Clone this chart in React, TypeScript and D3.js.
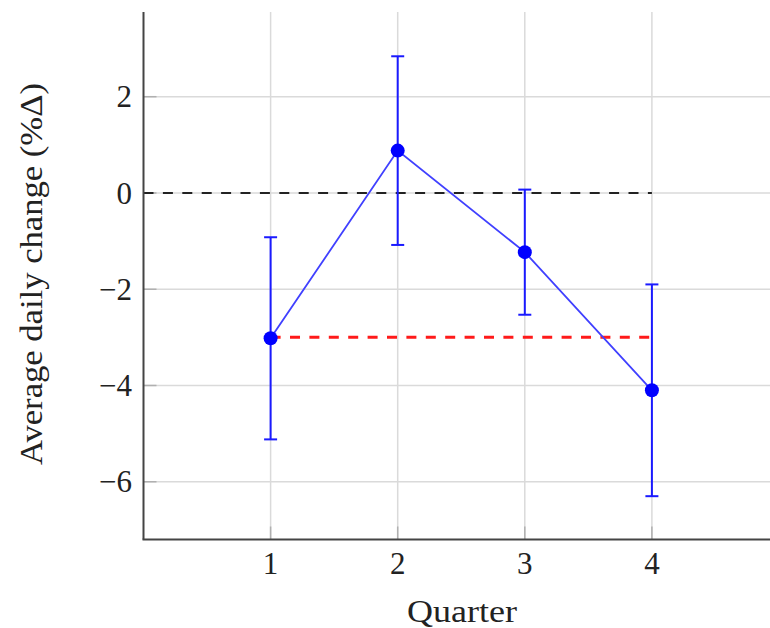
import React from "react";
import * as d3 from "d3";

const quarters = [1, 2, 3, 4];
const means = [-3.02, 0.88, -1.23, -4.1];
const errors = [2.1, 1.96, 1.3, 2.2];
const xTicks = [1, 2, 3, 4];
const yTicks = [-6, -4, -2, 0, 2];
const zeroLine = [0, 4];
const redLine = { from: 1, to: 4, value: -3 };

const W = 770;
const H = 628;
const left = 143.5;
const top = 12;
const bottom = 539.5;

export default function App() {
  const x = d3.scaleLinear().domain([0, 5]).range([left, 779]);
  const y = d3.scaleLinear().domain([-7.2, 3.76]).range([bottom, top]);
  const font = "'Liberation Serif', serif";
  const pts = quarters.map((q, i) => [x(q), y(means[i])] as [number, number]);
  const line = d3.line()(pts) || "";

  return (
    <svg width={W} height={H} style={{ position: "absolute", left: 0, top: 0, background: "#fff" }}>
      {xTicks.map((t) => (
        <line key={"gx" + t} x1={x(t)} x2={x(t)} y1={top} y2={bottom} stroke="#dadada" strokeWidth={1.5} />
      ))}
      {yTicks.map((t) => (
        <line key={"gy" + t} x1={left} x2={W} y1={y(t)} y2={y(t)} stroke="#dadada" strokeWidth={1.5} />
      ))}
      {xTicks.map((t) => (
        <line key={"tx" + t} x1={x(t)} x2={x(t)} y1={bottom} y2={bottom - 13} stroke="#b0b0b0" strokeWidth={1.5} />
      ))}
      {yTicks.map((t) => (
        <line key={"ty" + t} x1={left} x2={left + 13} y1={y(t)} y2={y(t)} stroke="#b0b0b0" strokeWidth={1.5} />
      ))}
      <line x1={x(zeroLine[0])} x2={x(zeroLine[1])} y1={y(0)} y2={y(0)} stroke="#222" strokeWidth={2} strokeDasharray="10,9.4" />
      <line x1={x(redLine.from)} x2={x(redLine.to)} y1={y(redLine.value)} y2={y(redLine.value)} stroke="#ff1a1a" strokeWidth={3} strokeDasharray="10,9.4" />
      {quarters.map((q, i) => {
        const cx = x(q);
        const y1 = y(means[i] + errors[i]);
        const y2 = y(means[i] - errors[i]);
        return (
          <g key={"e" + q} stroke="#1a1aff" strokeWidth={2}>
            <line x1={cx} x2={cx} y1={y1} y2={y2} />
            <line x1={cx - 6.5} x2={cx + 6.5} y1={y1} y2={y1} />
            <line x1={cx - 6.5} x2={cx + 6.5} y1={y2} y2={y2} />
          </g>
        );
      })}
      <path d={line} fill="none" stroke="#4040ff" strokeWidth={1.8} />
      {pts.map((p, i) => (
        <circle key={"c" + i} cx={p[0]} cy={p[1]} r={7} fill="#0000ff" />
      ))}
      <line x1={left} x2={left} y1={top} y2={bottom} stroke="#444" strokeWidth={2} />
      <line x1={left - 1} x2={W} y1={bottom} y2={bottom} stroke="#444" strokeWidth={2} />
      {xTicks.map((t) => (
        <text key={"lx" + t} x={x(t)} y={574} textAnchor="middle" style={{ fontFamily: font }} fontSize={31} fill="#222">
          {t}
        </text>
      ))}
      {yTicks.map((t) => (
        <text key={"ly" + t} x={132} y={y(t)} dy="0.34em" textAnchor="end" style={{ fontFamily: font }} fontSize={31} fill="#222">
          {t < 0 ? "\u2212" + Math.abs(t) : String(t)}
        </text>
      ))}
      <text x={462} y={622} textAnchor="middle" style={{ fontFamily: font }} fontSize={31} fill="#222" textLength={110} lengthAdjust="spacingAndGlyphs">
        Quarter
      </text>
      <text
        transform={`translate(42, ${274}) rotate(-90)`}
        textAnchor="middle"
        style={{ fontFamily: font }}
        fontSize={31}
        fill="#222"
        textLength={382}
        lengthAdjust="spacingAndGlyphs"
      >
        Average daily change (%Δ)
      </text>
    </svg>
  );
}
